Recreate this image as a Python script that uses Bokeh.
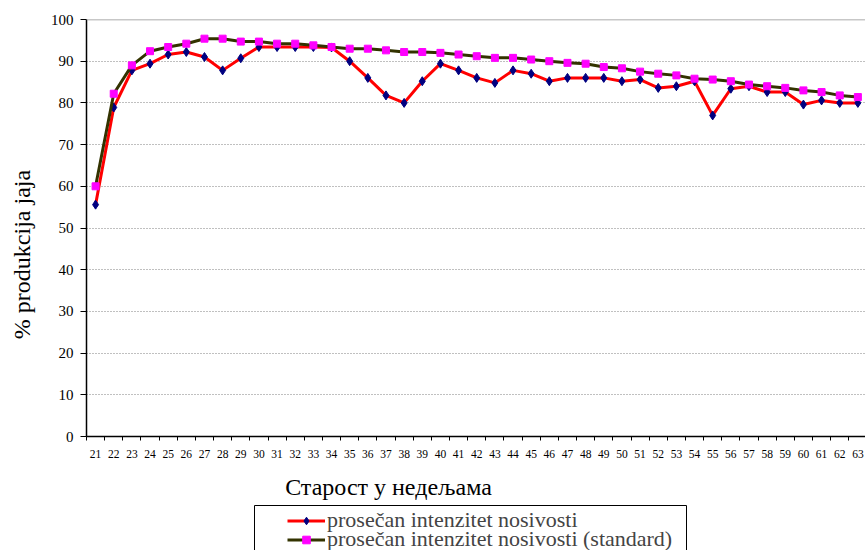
from math import pi
from bokeh.plotting import figure
from bokeh.layouts import column, row
from bokeh.models import (Range1d, FixedTicker, Label, Legend, LegendItem,
                          BoxAnnotation, Span)
from bokeh.embed import file_html
from bokeh.resources import INLINE

weeks = list(range(21, 64))
actual = [55.6, 78.9, 87.8, 89.4, 91.6, 92.2, 91.0, 87.8, 90.7, 93.4,
          93.4, 93.4, 93.4, 93.3, 90.0, 86.0, 81.8, 80.0, 85.2, 89.4,
          87.8, 86.0, 84.8, 87.8, 87.0, 85.2, 86.0, 86.0, 86.0, 85.2,
          85.6, 83.6, 84.0, 85.2, 77.0, 83.4, 84.0, 82.6, 82.6, 79.6,
          80.6, 80.0, 80.0]
standard = [60.0, 82.2, 89.0, 92.4, 93.4, 94.2, 95.4, 95.4, 94.7, 94.7,
            94.2, 94.2, 93.8, 93.4, 93.0, 93.0, 92.6, 92.2, 92.2, 92.0,
            91.6, 91.2, 90.8, 90.8, 90.4, 90.0, 89.6, 89.4, 88.6, 88.3,
            87.5, 87.0, 86.6, 85.8, 85.6, 85.2, 84.4, 84.0, 83.6, 83.0,
            82.6, 81.8, 81.4]
y_ticks = list(range(0, 101, 10))
x_title = "Старост у недељама"
y_title = "% produkcija jaja"
series_names = ["prosečan intenzitet nosivosti",
                "prosečan intenzitet nosivosti (standard)"]

FONT = "Liberation Serif"
W, H = 865, 550
WL = 40            # width of the strip that carries the y title
FRAME_LEFT = 86    # page x of the plot area's left edge
NAN = float("nan")

# ---------------- y-title strip ----------------
pl = figure(width=WL, height=H, output_backend="svg", toolbar_location=None,
            x_range=Range1d(0, 1), y_range=Range1d(0, 1),
            x_axis_type=None, y_axis_type=None, min_border=0,
            min_border_left=0, min_border_right=0,
            min_border_top=0, min_border_bottom=0)
pl.outline_line_color = None
pl.grid.visible = False
pl.border_fill_color = "white"
pl.add_layout(Label(x=21, y=H - 254, x_units="screen", y_units="screen",
                    text=y_title, text_font=FONT, text_font_size="24px",
                    text_align="center", text_baseline="middle",
                    angle=pi / 2, text_color="black"))

# ---------------- main chart ----------------
p = figure(width=W - WL, height=470, output_backend="svg",
           toolbar_location=None,
           x_range=Range1d(20.5, 63.42), y_range=Range1d(0, 100),
           min_border_left=FRAME_LEFT - WL, min_border_right=0,
           min_border_top=19, min_border_bottom=34)
p.outline_line_color = None
p.background_fill_color = "white"
p.border_fill_color = "white"

xa = p.xaxis[0]
xa.ticker = FixedTicker(ticks=weeks, minor_ticks=[w - 0.5 for w in weeks])
xa.major_tick_line_color = None
xa.major_tick_out = 0
xa.major_tick_in = 0
xa.minor_tick_line_color = "black"
xa.minor_tick_out = 4
xa.minor_tick_in = 0
xa.axis_line_color = "black"
xa.axis_line_width = 1.5
xa.major_label_text_font = FONT
xa.major_label_text_font_size = "11.5px"
xa.major_label_text_color = "black"
xa.major_label_standoff = 9

ya = p.yaxis[0]
ya.ticker = FixedTicker(ticks=y_ticks)
ya.major_tick_out = 6
ya.major_tick_in = 0
ya.minor_tick_line_color = None
ya.major_tick_line_color = "black"
ya.axis_line_color = "black"
ya.axis_line_width = 1.5
ya.major_label_text_font = FONT
ya.major_label_text_font_size = "15px"
ya.major_label_text_color = "black"
ya.major_label_standoff = 7

p.xgrid.visible = False
p.ygrid.ticker = FixedTicker(ticks=y_ticks[1:-1])
p.ygrid.grid_line_color = "#808080"
p.ygrid.grid_line_dash = "1 2"
p.ygrid.grid_line_width = 1

p.add_layout(Span(location=y_ticks[-1], dimension="width",
                  line_color="#909090", line_width=1.5))

r1 = p.line(weeks, actual, line_color="#ff0000", line_width=3)
m1 = p.scatter(weeks, actual, marker="diamond", size=9,
               fill_color="#000080", line_color="#000080")
r2 = p.line(weeks, standard, line_color="#333300", line_width=3)
m2 = p.scatter(weeks, standard, marker="square", size=7,
               fill_color="#ff00ff", line_color="#ff00ff")

# ---------------- x title + legend strip ----------------
p2 = figure(width=W - WL, height=H - 470, output_backend="svg",
            toolbar_location=None,
            x_range=Range1d(0, 1), y_range=Range1d(0, 1),
            x_axis_type=None, y_axis_type=None,
            min_border_left=FRAME_LEFT - WL, min_border_right=0,
            min_border_top=0, min_border_bottom=0)
p2.outline_line_color = None
p2.grid.visible = False
p2.background_fill_color = "white"
p2.border_fill_color = "white"

# positions below are screen pixels relative to the plot-area left edge
p2.add_layout(Label(x=388 - FRAME_LEFT, y=64, x_units="screen",
                    y_units="screen", text=x_title, text_font=FONT,
                    text_font_size="24px", text_align="center",
                    text_baseline="middle", text_color="black"))

p2.add_layout(BoxAnnotation(left=254 - FRAME_LEFT, right=686 - FRAME_LEFT,
                            top=45, bottom=-20,
                            left_units="screen", right_units="screen",
                            top_units="screen", bottom_units="screen",
                            fill_alpha=0, line_color="black", line_width=1,
                            line_alpha=1))

# legend-only renderers (a single NaN point: nothing is drawn in the strip)
d1 = p2.line([NAN], [NAN], line_color="#ff0000", line_width=3)
e1 = p2.scatter([NAN], [NAN], marker="diamond", size=9,
                fill_color="#000080", line_color="#000080")
d2 = p2.line([NAN], [NAN], line_color="#333300", line_width=3)
e2 = p2.scatter([NAN], [NAN], marker="square", size=7,
                fill_color="#ff00ff", line_color="#ff00ff")

for i, (rs, yloc) in enumerate([([d1, e1], 17), ([d2, e2], -2)]):
    leg = Legend(items=[LegendItem(label=series_names[i], renderers=rs)],
                 location=(287 - FRAME_LEFT, yloc), border_line_color=None,
                 background_fill_alpha=0, padding=0, margin=0,
                 glyph_width=38, glyph_height=19, label_standoff=2,
                 label_text_font=FONT, label_text_font_size="22px",
                 label_height=19, spacing=0)
    p2.add_layout(leg)

layout = row(pl, column(p, p2, spacing=0), spacing=0)
open("out.html", "w").write(file_html(layout, INLINE))
